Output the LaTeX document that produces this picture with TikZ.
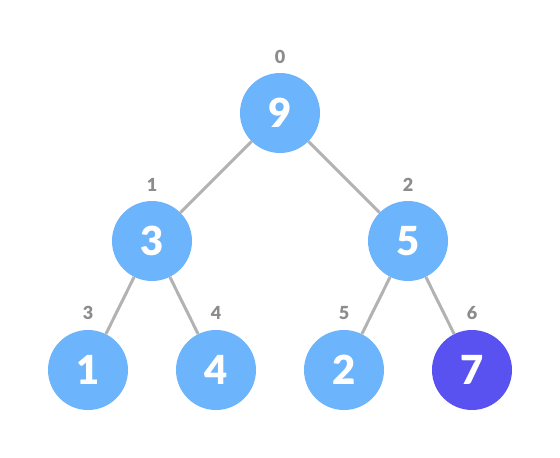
\documentclass[tikz,border=0pt]{standalone}
\usepackage{fontspec}
\setmainfont{Lato}[BoldFont={Lato Bold}]
\newfontfamily\heavyfont{Lato Black}
\usepackage{tikz}
\usepackage{color}
\definecolor{heapblue}{RGB}{108,180,252}
\definecolor{heappurple}{RGB}{89,82,240}
\definecolor{edgegray}{RGB}{178,178,178}
\definecolor{idxgray}{RGB}{140,140,140}

\begin{document}
\begin{tikzpicture}[x=1pt,y=-1pt,
    heapnode/.style={circle,fill=heapblue,minimum size=80pt,inner sep=0pt,
      text=white,font=\fontsize{40}{40}\selectfont\heavyfont},
    lastnode/.style={heapnode,fill=heappurple},
    idx/.style={text=idxgray,font=\fontsize{18}{18}\selectfont\heavyfont},
    edge/.style={draw=edgegray,line width=3pt}]
      \useasboundingbox (0,0) rectangle (560,458);
      \node[heapnode] (n0) at (280,113) {9};
      \node[heapnode] (n1) at (152,241) {3};
      \node[heapnode] (n2) at (408,241) {5};
      \node[heapnode] (n3) at (88,370) {1};
      \node[heapnode] (n4) at (216,370) {4};
      \node[heapnode] (n5) at (344,370) {2};
      \node[lastnode] (n6) at (472,370) {7};

      \foreach\a\b in {n0/n1, n0/n2, n1/n3, n1/n4, n2/n5, n2/n6}
      {\draw[edge] (\a) -- (\b);}

      \foreach\i/\x/\y in {0/280/57, 1/152/185, 2/408/185, 3/88/313, 4/216/313, 5/344/313, 6/472/313}
      {\node[idx] (i\i) at (\x,\y) {\i};}
    \end{tikzpicture}
\end{document}
